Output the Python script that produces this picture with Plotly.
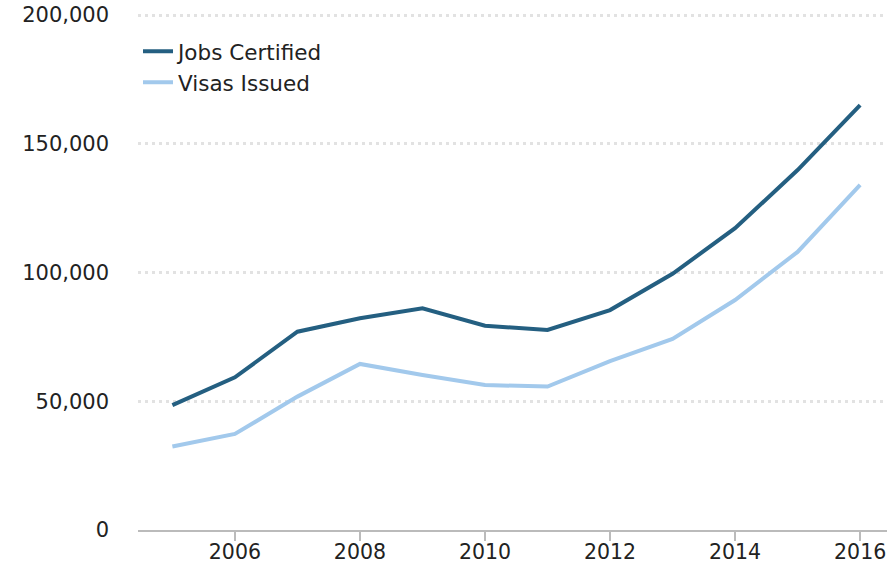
import plotly.graph_objects as go

years = [2005, 2006, 2007, 2008, 2009, 2010, 2011, 2012, 2013, 2014, 2015, 2016]
jobs_certified = [48500, 59300, 77000, 82200, 86100, 79300, 77700, 85400, 99500, 117200, 139800, 165000]
visas_issued = [32400, 37300, 51800, 64500, 60200, 56300, 55700, 65600, 74200, 89300, 108000, 134000]

y_ticks = [0, 50000, 100000, 150000, 200000]
y_tick_labels = ["0", "50,000", "100,000", "150,000", "200,000"]
x_ticks = [2006, 2008, 2010, 2012, 2014, 2016]
x_tick_labels = ["2006", "2008", "2010", "2012", "2014", "2016"]

FONT = "DejaVu Sans, sans-serif"

fig = go.Figure()
fig.add_trace(go.Scatter(x=years, y=jobs_certified, mode="lines", name="Jobs Certified",
                         line=dict(color="#245f81", width=4), cliponaxis=False))
fig.add_trace(go.Scatter(x=years, y=visas_issued, mode="lines", name="Visas Issued",
                         line=dict(color="#a2c9ec", width=4), cliponaxis=False))

fig.update_layout(
    width=887, height=566,
    margin=dict(l=138, r=0, t=10, b=36, autoexpand=False),
    paper_bgcolor="white", plot_bgcolor="white",
    font=dict(family=FONT, size=21, color="#222"),
    showlegend=True,
    legend=dict(x=0.0, y=0.96, xanchor="left", yanchor="top",
                bgcolor="rgba(0,0,0,0)", font=dict(size=21.5, color="#222"),
                tracegroupgap=0, itemwidth=30),
    xaxis=dict(range=[2004.45, 2016.43], tickvals=x_ticks, ticktext=x_tick_labels,
               automargin=False,
               showgrid=False, zeroline=False, showline=True, linecolor="#bbbbbb", linewidth=2,
               ticks="outside", ticklen=9, tickwidth=2, tickcolor="#bbbbbb",
               ticklabelstandoff=-7,
               tickfont=dict(size=20.5, color="#222")),
    yaxis=dict(range=[0, 201942], tickvals=y_ticks, ticktext=y_tick_labels,
               automargin=False,
               showgrid=True, gridcolor="#e2e2e2", gridwidth=3, griddash="3px,4px",
               zeroline=False, showline=False, ticks="",
               ticklabelstandoff=28, tickfont=dict(size=21, color="#222")),
)

fig.write_html("out.html", config={"displayModeBar": False},
               post_script="document.body.style.margin='0';")
